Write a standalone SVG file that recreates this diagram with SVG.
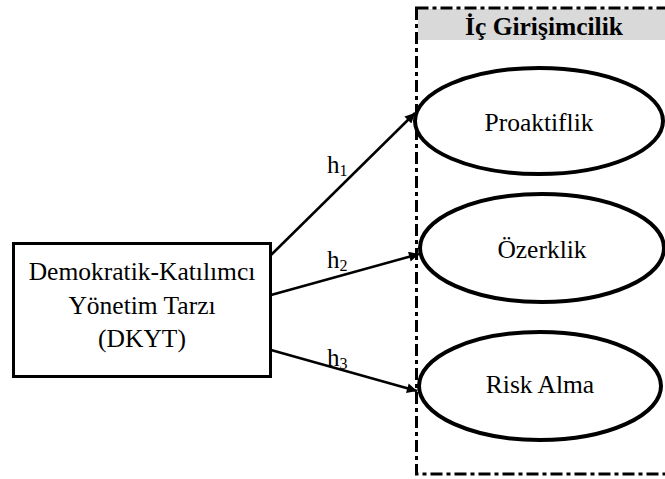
<svg xmlns="http://www.w3.org/2000/svg" width="665" height="479" viewBox="0 0 665 479">
<style>
text{font-family:'Liberation Serif','Times New Roman',Times,serif;fill:#000}
.t{font-size:25.5px;text-anchor:middle}
.h{font-size:25px}
.s{font-size:16px}
.ell{fill:#fff;stroke:#000;stroke-width:4}
.con{stroke:#000;stroke-width:2.5;fill:none;marker-end:url(#ah)}
</style>
<defs>
<marker id="ah" viewBox="0 0 10 10" refX="10" refY="5" markerWidth="14" markerHeight="10" markerUnits="userSpaceOnUse" orient="auto">
<path d="M0,0 L10,5 L0,10 z" fill="#000"/>
</marker>
</defs>
<rect width="665" height="479" fill="#fff"/>
<g id="frame">
<rect x="418" y="9" width="250" height="31" fill="#d9d9d9"/>
<rect x="416.5" y="8" width="260" height="466" fill="none" stroke="#000" stroke-width="3" stroke-dasharray="12,4,4,4"/>
<text x="544" y="35" class="t" font-weight="bold">İç Girişimcilik</text>
</g>
<g id="connectors">
<line x1="271" y1="255" x2="415" y2="113" class="con"/>
<line x1="271" y1="295" x2="419" y2="254" class="con"/>
<line x1="271" y1="350" x2="417" y2="391" class="con"/>
<text x="327" y="173" class="h">h<tspan class="s" dy="3">1</tspan></text>
<text x="327" y="268" class="h">h<tspan class="s" dy="3">2</tspan></text>
<text x="327" y="366" class="h">h<tspan class="s" dy="3">3</tspan></text>
</g>
<g id="dkyt">
<rect x="13.5" y="243.5" width="257" height="133" fill="#fff" stroke="#000" stroke-width="3"/>
<text x="142" y="280" class="t">Demokratik-Katılımcı</text>
<text x="142" y="314" class="t">Yönetim Tarzı</text>
<text x="142" y="347" class="t">(DKYT)</text>
</g>
<g id="proaktiflik">
<ellipse cx="539" cy="121" rx="124" ry="53" class="ell"/>
<text x="539" y="131" class="t">Proaktiflik</text>
</g>
<g id="ozerklik">
<ellipse cx="542" cy="248" rx="122" ry="54" class="ell"/>
<text x="542" y="258" class="t">Özerklik</text>
</g>
<g id="riskalma">
<ellipse cx="540" cy="386" rx="121" ry="54" class="ell"/>
<text x="540" y="393" class="t">Risk Alma</text>
</g>
</svg>
